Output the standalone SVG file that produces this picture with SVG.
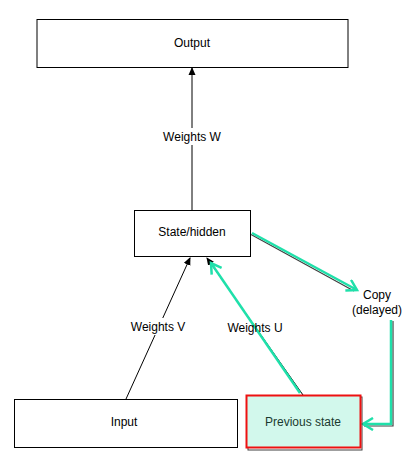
<svg xmlns="http://www.w3.org/2000/svg" width="417" height="455" viewBox="0 0 417 455">
<defs>
<style>
.box{fill:#ffffff;stroke:#000000;stroke-width:1}
.lbl{font-family:"Liberation Sans",Arial,sans-serif;font-size:12px;fill:#000000;text-anchor:middle}
.blk{stroke:#000000;stroke-width:1;fill:none}
.sh{stroke:#404040;stroke-width:1.2;fill:none}
.grn{stroke:#1fe0aa;stroke-width:2.5;fill:none}
</style>
<marker id="ab" markerWidth="8" markerHeight="8" refX="7" refY="4" orient="auto" markerUnits="userSpaceOnUse">
<path d="M0,0.5 L8,4 L0,7.5 Z" fill="#000000"/>
</marker>
<marker id="ag" markerWidth="14" markerHeight="14" refX="11" refY="7" orient="auto" markerUnits="userSpaceOnUse">
<path d="M1,1 L11,7 L1,13" fill="none" stroke="#1fe0aa" stroke-width="2.5"/>
</marker>
</defs>
<rect width="417" height="455" fill="#ffffff"/>
<g id="connectors">
<line class="blk" x1="192" y1="210" x2="192" y2="68" marker-end="url(#ab)"/>
<line class="blk" x1="126" y1="399" x2="190" y2="258" marker-end="url(#ab)"/>
<line class="blk" x1="303" y1="395" x2="207" y2="258" marker-end="url(#ab)"/>
<line class="grn" x1="300" y1="393" x2="211" y2="263" marker-end="url(#ag)"/>
<line class="sh" x1="251" y1="234.5" x2="354" y2="291"/>
<line class="grn" x1="252" y1="233" x2="357" y2="290" marker-end="url(#ag)"/>
<polyline class="sh" points="393,321 393,426 364,426"/>
<polyline class="grn" points="391,320 391,424 363,424" marker-end="url(#ag)"/>
<rect x="158" y="128" width="68" height="17" fill="#ffffff"/>
<text class="lbl" x="192" y="141">Weights W</text>
<rect x="125" y="318" width="66" height="17" fill="#ffffff"/>
<text class="lbl" x="158" y="331">Weights V</text>
<text class="lbl" x="255" y="332">Weights U</text>
<text class="lbl" x="377" y="299">Copy</text>
<text class="lbl" x="377" y="314">(delayed)</text>
</g>
<g id="output">
<rect class="box" x="37" y="19.5" width="311" height="48"/>
<text class="lbl" x="192" y="47">Output</text>
</g>
<g id="state">
<rect class="box" x="134.5" y="210.5" width="116" height="46"/>
<text class="lbl" x="192" y="236">State/hidden</text>
</g>
<g id="input">
<rect class="box" x="14.5" y="399.5" width="223" height="48"/>
<text class="lbl" x="124" y="426">Input</text>
</g>
<g id="previous">
<rect x="248" y="397" width="114" height="53" fill="none" stroke="#404040" stroke-width="1"/>
<rect x="246.5" y="395.5" width="114" height="52" fill="#d2f8ec" stroke="#ee1111" stroke-width="2"/>
<text class="lbl" x="303" y="426" style="fill:#1a3a30">Previous state</text>
</g>
</svg>
